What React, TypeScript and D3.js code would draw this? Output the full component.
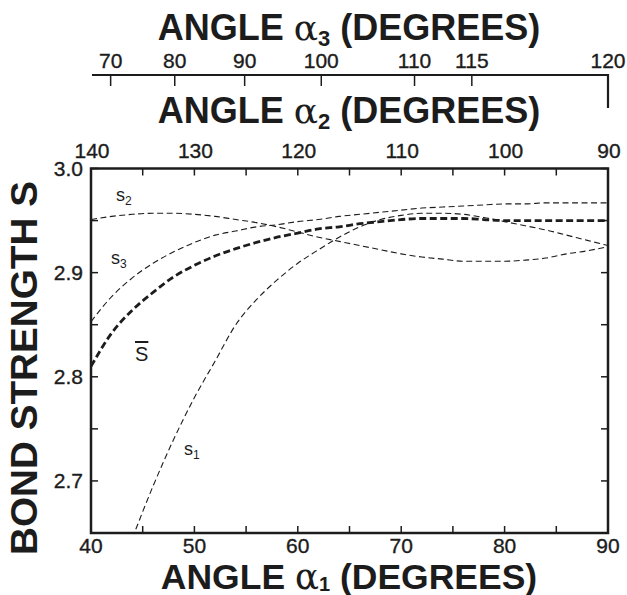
import React from 'react';
import * as d3 from 'd3';

// ---- data ----
const alpha1Full = [40, 42, 44, 46, 48, 50, 52, 54, 56, 58, 60, 62, 64, 66, 68, 70, 72, 74, 76, 78, 80, 82, 84, 86, 88, 90];
const alpha1S1 = [44, 46, 48, 50, 52, 54, 56, 58, 60, 62, 64, 66, 68, 70, 72, 74, 76, 78, 80, 82, 84, 86, 88, 90];
const s1Values = [2.645, 2.695, 2.740, 2.780, 2.815, 2.850, 2.874, 2.893, 2.909, 2.922, 2.934, 2.944, 2.951, 2.955, 2.957, 2.957, 2.956, 2.953, 2.949, 2.945, 2.941, 2.936, 2.931, 2.926];
const s2Values = [2.951, 2.954, 2.956, 2.957, 2.957, 2.956, 2.954, 2.951, 2.948, 2.944, 2.939, 2.934, 2.930, 2.926, 2.922, 2.918, 2.915, 2.913, 2.911, 2.911, 2.911, 2.912, 2.914, 2.918, 2.921, 2.925];
const s3Values = [2.853, 2.877, 2.895, 2.909, 2.920, 2.929, 2.936, 2.940, 2.944, 2.946, 2.949, 2.951, 2.954, 2.956, 2.958, 2.960, 2.962, 2.963, 2.964, 2.965, 2.966, 2.966, 2.967, 2.967, 2.967, 2.967];
const sMeanValues = [2.810, 2.842, 2.864, 2.881, 2.896, 2.907, 2.916, 2.923, 2.929, 2.934, 2.938, 2.942, 2.944, 2.947, 2.949, 2.951, 2.952, 2.952, 2.952, 2.951, 2.950, 2.950, 2.950, 2.950, 2.950, 2.950];

const alpha1Ticks = [40, 45, 50, 55, 60, 65, 70, 75, 80, 85, 90];
const alpha1Labels = [40, 50, 60, 70, 80, 90];
const alpha2Ticks = [140, 135, 130, 125, 120, 115, 110, 105, 100, 95, 90];
const alpha2Labels = [140, 130, 120, 110, 100, 90];
const alpha3Labels = [70, 80, 90, 100, 110, 115, 120];
const alpha3AtAlpha1 = [41.9, 48.1, 54.86, 62.27, 71.29, 76.83, 90];
const sTicks = [2.65, 2.7, 2.75, 2.8, 2.85, 2.9, 2.95, 3.0];
const sLabels = ['2.7', '2.8', '2.9', '3.0'];

// ---- layout ----
const W = 627, H = 595;
const L = 91, R = 608, T = 168.5, B = 533;
const INK = '#1c1c1c';
const FONT = 'Liberation Sans, Arial, Helvetica, sans-serif';

export default function App() {
  const x = d3.scaleLinear().domain([40, 90]).range([L, R]);
  const x2 = d3.scaleLinear().domain([140, 90]).range([L, R]);
  const y = d3.scaleLinear().domain([2.65, 3.0]).range([B, T]);

  const line = d3.line<[number, number]>()
    .x(d => x(d[0]))
    .y(d => y(d[1]))
    .curve(d3.curveMonotoneX);

  const s1 = line(alpha1S1.map((a, i) => [a, s1Values[i]]))!;
  const s2 = line(alpha1Full.map((a, i) => [a, s2Values[i]]))!;
  const s3 = line(alpha1Full.map((a, i) => [a, s3Values[i]]))!;
  const sm = line(alpha1Full.map((a, i) => [a, sMeanValues[i]]))!;

  const tickLen = 7;
  const a3Y = 75;
  const lab = { fontSize: 21, fill: INK, stroke: INK, strokeWidth: 0.35 } as const;

  return (
    <svg width={W} height={H} style={{ position: 'absolute', left: 0, top: 0, background: '#fff' }}
      fontFamily={FONT}>
      <defs>
        <clipPath id="plotclip">
          <rect x={L} y={T} width={R - L} height={B - T} />
        </clipPath>
      </defs>

      {/* curves */}
      <g clipPath="url(#plotclip)" fill="none" stroke={INK}>
        <path d={s1} strokeWidth={1.1} strokeDasharray="6 3.5" />
        <path d={s2} strokeWidth={1.1} strokeDasharray="6 3.5" />
        <path d={s3} strokeWidth={1.1} strokeDasharray="6 3.5" />
        <path d={sm} strokeWidth={2.8} strokeDasharray="7 3.5" />
      </g>

      {/* frame */}
      <rect x={L} y={T} width={R - L} height={B - T} fill="none" stroke={INK} strokeWidth={2.5} />

      {/* bottom & top ticks */}
      {alpha1Ticks.map(t => (
        <line key={'b' + t} x1={x(t)} x2={x(t)} y1={B} y2={B - tickLen} stroke={INK} strokeWidth={1.5} />
      ))}
      {alpha2Ticks.map(t => (
        <line key={'t' + t} x1={x2(t)} x2={x2(t)} y1={T} y2={T + tickLen} stroke={INK} strokeWidth={1.5} />
      ))}
      {/* left & right ticks */}
      {sTicks.map(t => (
        <g key={'s' + t}>
          <line x1={L} x2={L + tickLen} y1={y(t)} y2={y(t)} stroke={INK} strokeWidth={1.5} />
          <line x1={R} x2={R - tickLen} y1={y(t)} y2={y(t)} stroke={INK} strokeWidth={1.5} />
        </g>
      ))}

      {/* bottom labels */}
      {alpha1Labels.map(t => (
        <text key={'bl' + t} x={x(t)} y={552.5} textAnchor="middle" {...lab}>{t}</text>
      ))}
      {/* top alpha2 labels */}
      {alpha2Labels.map(t => (
        <text key={'tl' + t} x={x2(t) + 1} y={158} textAnchor="middle" {...lab}>{t}</text>
      ))}
      {/* y labels */}
      {sLabels.map(t => (
        <text key={'yl' + t} x={L - 8} y={y(+t) + 7.5} textAnchor="end" {...lab}>{t}</text>
      ))}

      {/* alpha3 axis */}
      <path d={`M${L + 1},${a3Y}H${x(90)}V${a3Y + 33}`} fill="none" stroke={INK} strokeWidth={2.2} />
      {alpha3Labels.map((t, i) => (
        <g key={'a3' + t}>
          {t !== 120 && (
            <line x1={x(alpha3AtAlpha1[i])} x2={x(alpha3AtAlpha1[i])} y1={a3Y} y2={a3Y + 11} stroke={INK} strokeWidth={1.5} />
          )}
          <text x={x(alpha3AtAlpha1[i])} y={68} textAnchor="middle" {...lab}>{t}</text>
        </g>
      ))}

      {/* titles */}
      <text x={349} y={40} textAnchor="middle" fontSize={36} fontWeight="bold" fill={INK}>
        ANGLE <tspan fontWeight="normal" fontFamily="DejaVu Serif, serif">α</tspan><tspan fontSize={22} dy={6}>3</tspan><tspan dy={-6}> (DEGREES)</tspan>
      </text>
      <text x={349} y={123} textAnchor="middle" fontSize={36} fontWeight="bold" fill={INK}>
        ANGLE <tspan fontWeight="normal" fontFamily="DejaVu Serif, serif">α</tspan><tspan fontSize={22} dy={6}>2</tspan><tspan dy={-6}> (DEGREES)</tspan>
      </text>
      <text x={349} y={588.5} textAnchor="middle" fontSize={35.5} fontWeight="bold" fill={INK}>
        ANGLE <tspan fontWeight="normal" fontFamily="DejaVu Serif, serif">α</tspan><tspan fontSize={20} dy={2.5}>1</tspan><tspan dy={-2.5}> (DEGREES)</tspan>
      </text>
      <text transform={`translate(37,${(180 + 556) / 2}) rotate(-90)`} textAnchor="middle" fontSize={36}
        fontWeight="bold" fill={INK} textLength={374} lengthAdjust="spacingAndGlyphs">BOND STRENGTH S</text>

      {/* curve labels */}
      <text x={116} y={201} fontSize={18} fill={INK}>s<tspan fontSize={12} dy={4}>2</tspan></text>
      <text x={111} y={264} fontSize={18} fill={INK}>s<tspan fontSize={12} dy={4}>3</tspan></text>
      <text x={184} y={455} fontSize={18} fill={INK}>s<tspan fontSize={12} dy={4}>1</tspan></text>
      <text x={135} y={361} fontSize={20} fill={INK} style={{ textDecoration: 'overline' }}>S</text>
    </svg>
  );
}
